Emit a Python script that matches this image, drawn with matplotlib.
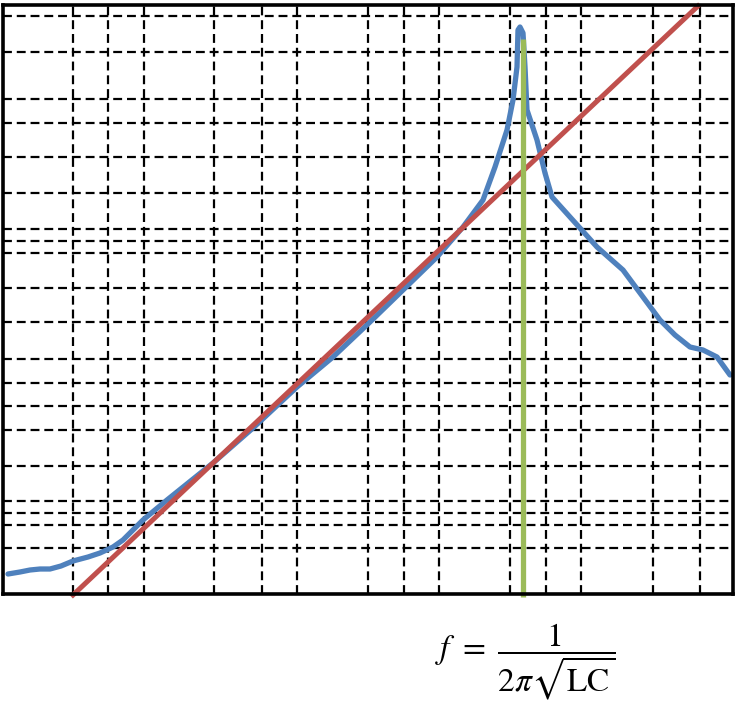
import matplotlib
matplotlib.use("Agg")
import matplotlib.pyplot as plt

# Grid line positions (data units)
grid_x = [70, 105, 141, 211, 259, 294, 365, 401, 436, 507, 543, 578, 650, 697]
grid_y = [578, 542, 495, 471, 437, 401, 365, 353, 341, 306, 272, 235, 211, 188,
          164, 128, 93, 81, 69, 46]

# Blue response curve
blue_x = [5, 17, 27, 37, 47, 58, 70, 85, 97, 110, 120, 140, 164, 210, 250, 294,
          330, 367, 400, 434, 460, 480, 492, 504, 510, 514, 515, 517, 520, 522,
          524, 534, 542, 549, 567, 594, 620, 640, 657, 672, 687, 700, 714, 727]
blue_y = [20, 22, 24, 25, 25, 28, 33, 37, 41, 47, 54, 74, 94, 131, 166, 207,
          237, 272, 304, 337, 367, 394, 427, 464, 494, 527, 564, 567, 561, 527,
          484, 454, 421, 397, 377, 347, 324, 297, 274, 259, 247, 244, 237, 219]

# Red asymptote line
red_x = [70, 695]
red_y = [-1, 588]

# Green resonance marker
green_x = 520
green_y = [-3, 555]

fig = plt.figure(figsize=(7.43, 7.14), dpi=100)
ax = fig.add_axes([3 / 743, 1 - 594 / 714, 730 / 743, 589 / 714])
ax.set_xlim(0, 730)
ax.set_ylim(0, 589)

for gx in grid_x:
    ax.axvline(gx, color="black", lw=1.6, dashes=(4, 2.2), zorder=1)
for gy in grid_y:
    ax.axhline(gy, color="black", lw=1.6, dashes=(4, 2.2), zorder=1)

ax.plot(blue_x, blue_y, color="#4F81BD", lw=3.8, solid_capstyle="round",
        solid_joinstyle="round", zorder=3)
ax.plot(red_x, red_y, color="#C0504D", lw=3.6, zorder=4, clip_on=False)
ax.plot([green_x, green_x], green_y, color="#9BBB59", lw=3.8, zorder=5,
        clip_on=False, solid_capstyle="butt")

ax.set_xticks([])
ax.set_yticks([])
for s in ax.spines.values():
    s.set_linewidth(2.6)
    s.set_color("black")
    s.set_zorder(6)

plt.rcParams["mathtext.fontset"] = "stix"
fig.text(525 / 743, 1 - 662 / 714, r"$f\ =\ \dfrac{1}{2\pi\sqrt{\mathrm{LC}}}$",
         fontsize=24, ha="center", va="center")

fig.savefig("out.png", dpi=100)
